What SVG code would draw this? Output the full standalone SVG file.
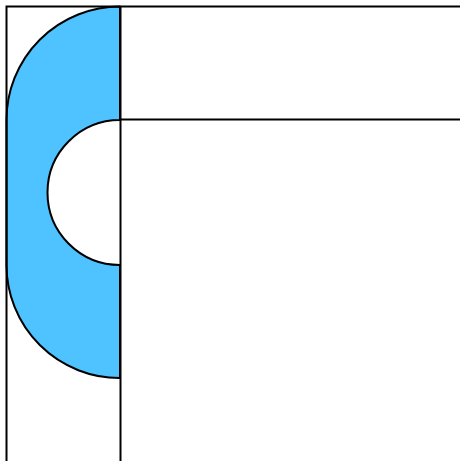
<svg xmlns="http://www.w3.org/2000/svg" width="460" height="461" viewBox="0 0 460 461">
<style>
.ln{stroke:#000;stroke-width:2;fill:none}
.sh{fill:#4FC3FF;stroke:#000;stroke-width:2;stroke-linejoin:round}
</style>
<rect width="460" height="461" fill="#fff"/>
<g id="shape">
<path class="sh" d="M120,6.5 A113.5,113.5 0 0 0 6.5,120 L6.5,265 A113,113 0 0 0 120,378 L120,265 A72.5,72.5 0 0 1 120,120 Z"/>
</g>
<g id="lines">
<path class="ln" d="M6.5,461 V6.5 H460"/>
<path class="ln" d="M120.5,6.5 V461"/>
<path class="ln" d="M120.5,119.5 H460"/>
</g>
</svg>
